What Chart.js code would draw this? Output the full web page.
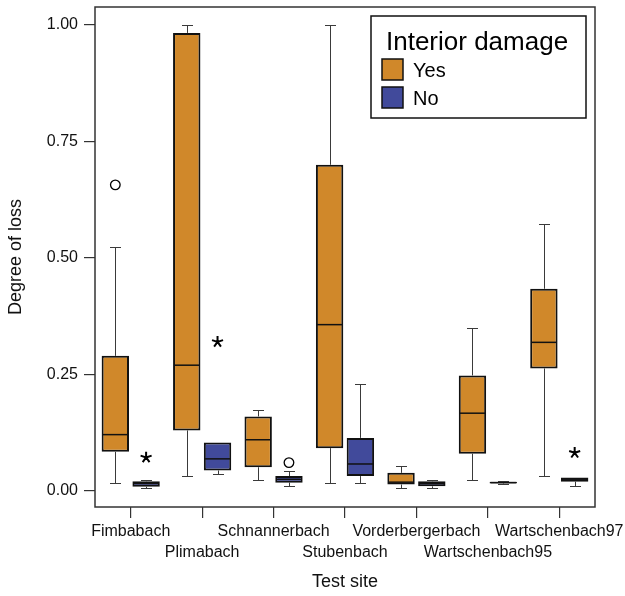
<!DOCTYPE html>
<html>
<head>
<meta charset="utf-8">
<script src="https://cdn.jsdelivr.net/npm/chart.js@4.4.0/dist/chart.umd.min.js"></script>
<style>
  html,body{margin:0;padding:0;background:#fff;}
  canvas{display:block;}
</style>
</head>
<body>
<canvas id="lossChart" width="625" height="596"></canvas>
<script>
/* ---------- DATA ---------- */
const sites = ["Fimbabach","Plimabach","Schnannerbach","Stubenbach","Vorderbergerbach","Wartschenbach95","Wartschenbach97"];
const yTicks = [0, 0.25, 0.5, 0.75, 1.0];

// interior damage: yes
const yesLow  = [0.017, 0.032, 0.024, 0.018, 0.006, 0.024, 0.032];
const yesQ1   = [0.084, 0.130, 0.051, 0.092, 0.014, 0.080, 0.263];
const yesMed  = [0.121, 0.270, 0.110, 0.357, 0.019, 0.167, 0.319];
const yesQ3   = [0.290, 0.983, 0.160, 0.700, 0.039, 0.248, 0.434];
const yesHigh = [0.524, 1.000, 0.173, 1.000, 0.054, 0.349, 0.573];
const yesCircles = [[0.657], [], [], [], [], [], []];
const yesStars   = [[], [], [], [], [], [], []];

// interior damage: no
const noLow  = [0.006, 0.037, 0.011, 0.018, 0.006, 0.015, 0.010];
const noQ1   = [0.009, 0.044, 0.018, 0.032, 0.010, 0.016, 0.020];
const noMed  = [0.016, 0.069, 0.025, 0.058, 0.016, 0.018, 0.024];
const noQ3   = [0.021, 0.104, 0.032, 0.114, 0.021, 0.020, 0.029];
const noHigh = [0.024, 0.104, 0.044, 0.230, 0.024, 0.021, 0.029];
const noCircles = [[], [], [0.061], [], [], [], []];
const noStars   = [[0.072], [0.320], [], [], [], [], [0.082]];

/* ---------- STYLE ---------- */
const ORANGE = "#D0882A", BLUE = "#414A9B";
const FONT = "'Liberation Sans', Arial, Helvetica, sans-serif";
const extras = [
  {low: yesLow, med: yesMed, high: yesHigh, circles: yesCircles, stars: yesStars},
  {low: noLow,  med: noMed,  high: noHigh,  circles: noCircles,  stars: noStars}
];

/* ---------- BOX PARTS: whiskers, medians, outliers, frame, legend ---------- */
const boxParts = {
  id: "boxParts",
  beforeDatasetsDraw(chart) {
    const {ctx, scales: {y}} = chart;
    ctx.save();
    ctx.strokeStyle = "#3a3a3a"; ctx.lineWidth = 1;
    extras.forEach((ex, d) => {
      chart.getDatasetMeta(d).data.forEach((bar, i) => {
        const x = Math.round(bar.x) + 0.5;
        const [q1, q3] = chart.data.datasets[d].data[i];
        const ends = [[q3, ex.high[i]], [q1, ex.low[i]]];
        ends.forEach(([from, to]) => {
          if (Math.abs(to - from) < 1e-6) return;
          const py = Math.round(y.getPixelForValue(to)) + 0.5;
          ctx.beginPath();
          ctx.moveTo(x, y.getPixelForValue(from)); ctx.lineTo(x, py);
          ctx.moveTo(x - 5.5, py); ctx.lineTo(x + 5.5, py);
          ctx.stroke();
        });
      });
    });
    ctx.restore();
  },
  afterDatasetsDraw(chart) {
    const {ctx, chartArea: a, scales: {y}} = chart;
    ctx.save();
    extras.forEach((ex, d) => {
      chart.getDatasetMeta(d).data.forEach((bar, i) => {
        const half = bar.width / 2;
        // median
        const my = y.getPixelForValue(ex.med[i]);
        ctx.strokeStyle = "#111"; ctx.lineWidth = 1.5;
        ctx.beginPath(); ctx.moveTo(bar.x - half + 1, my); ctx.lineTo(bar.x + half - 1, my); ctx.stroke();
        // open circles
        ctx.lineWidth = 1.3; ctx.strokeStyle = "#000";
        ex.circles[i].forEach(v => {
          ctx.beginPath(); ctx.arc(bar.x, y.getPixelForValue(v), 4.8, 0, Math.PI * 2); ctx.stroke();
        });
        // asterisks (five arms)
        ctx.lineWidth = 2; ctx.lineCap = "butt";
        ex.stars[i].forEach(v => {
          const cy = y.getPixelForValue(v);
          ctx.beginPath();
          for (let k = 0; k < 5; k++) {
            const ang = -Math.PI / 2 + k * 2 * Math.PI / 5;
            ctx.moveTo(bar.x, cy); ctx.lineTo(bar.x + 5.8 * Math.cos(ang), cy + 5.8 * Math.sin(ang));
          }
          ctx.stroke();
        });
      });
    });
    // plot frame
    ctx.strokeStyle = "#333"; ctx.lineWidth = 1.5;
    ctx.strokeRect(a.left, a.top, a.right - a.left, a.bottom - a.top);
    // legend box
    const lx = a.right - 224, ly = a.top + 9, lw = 215, lh = 102;
    ctx.fillStyle = "#fff"; ctx.fillRect(lx, ly, lw, lh);
    ctx.strokeStyle = "#111"; ctx.lineWidth = 1.5; ctx.strokeRect(lx, ly, lw, lh);
    ctx.fillStyle = "#000"; ctx.textBaseline = "alphabetic"; ctx.textAlign = "left";
    ctx.font = "26px " + FONT;
    ctx.fillText("Interior damage", lx + 15, ly + 34);
    [["Yes", ORANGE], ["No", BLUE]].forEach(([txt, col], k) => {
      const sy = ly + 43 + k * 28;
      ctx.fillStyle = col; ctx.fillRect(lx + 11, sy, 21, 21);
      ctx.strokeStyle = "#111"; ctx.lineWidth = 1.5; ctx.strokeRect(lx + 11, sy, 21, 21);
      ctx.fillStyle = "#000"; ctx.font = "20px " + FONT;
      ctx.fillText(txt, lx + 42, sy + 18);
    });
    ctx.restore();
  }
};

/* ---------- CHART ---------- */
new Chart(document.getElementById("lossChart"), {
  type: "bar",
  data: {
    labels: sites,
    datasets: [
      {label: "Yes", data: sites.map((s, i) => [yesQ1[i], yesQ3[i]]), backgroundColor: ORANGE},
      {label: "No",  data: sites.map((s, i) => [noQ1[i],  noQ3[i]]),  backgroundColor: BLUE}
    ].map(ds => Object.assign(ds, {borderColor: "#111", borderWidth: 2, borderSkipped: false,
      categoryPercentage: 0.862, barPercentage: 0.89}))
  },
  options: {
    responsive: false, devicePixelRatio: 1, animation: false,
    layout: {padding: {left: 0, top: 7, right: 30, bottom: 0}},
    plugins: {legend: {display: false}, tooltip: {enabled: false}},
    scales: {
      x: {
        type: "category", offset: true,
        grid: {offset: false, drawOnChartArea: false, tickLength: 11, color: "#333", lineWidth: 1.2},
        border: {display: false},
        ticks: {autoSkip: false, maxRotation: 0, padding: 3, color: "#111",
          font: {family: FONT, size: 16, lineHeight: 1.3}, callback: (v, i) => i % 2 ? ["", sites[i]] : sites[i]},
        title: {display: true, text: "Test site", color: "#111", font: {family: FONT, size: 18}, padding: {top: 0, bottom: 3}},
        afterFit: s => { s.height = 89; s.paddingLeft = 0; s.paddingRight = 0; }
      },
      y: {
        min: -0.0343, max: 1.0386,
        afterBuildTicks: s => { s.ticks = yTicks.map(v => ({value: v})); },
        grid: {drawOnChartArea: false, tickLength: 11, color: "#333", lineWidth: 1.2},
        border: {display: false},
        ticks: {padding: 6, color: "#111", font: {family: FONT, size: 16}, callback: v => v.toFixed(2)},
        title: {display: true, text: "Degree of loss", color: "#111", font: {family: FONT, size: 18}, padding: {top: 5, bottom: 0}},
        afterFit: s => { s.width = 95; s.paddingTop = 0; s.paddingBottom = 0; }
      }
    }
  },
  plugins: [boxParts]
});
</script>
</body>
</html>
